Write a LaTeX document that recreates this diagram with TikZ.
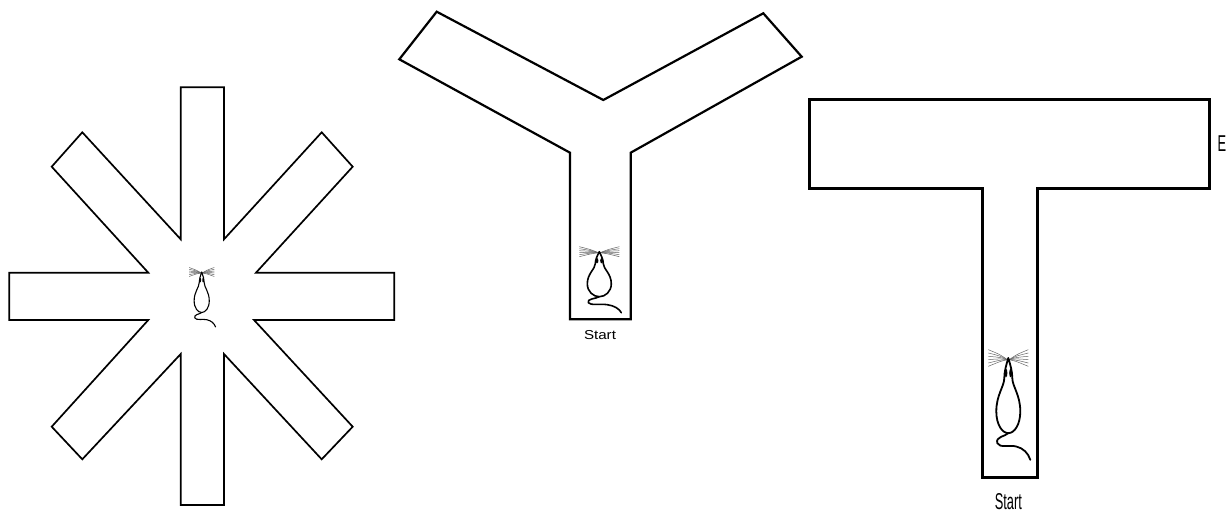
\documentclass[tikz,border=0pt]{standalone}
\usepackage{fontspec}
\setmainfont{Liberation Sans}
\begin{document}
\begin{tikzpicture}[x=1bp,y=-1bp,
  wall/.style={draw=black,line join=miter},
  ratline/.style={draw=black,line width=1.6bp,line cap=round,line join=round},
  whisker/.style={draw=black!60,line width=0.5bp},
  label/.style={inner sep=0pt,anchor=base},
  rat/.pic={
    % whiskers fanning out from the nose
    \foreach \a in {-5,-3,-1,1,3,5}{
      \draw[whisker] (-1,1) .. controls (-8,\a*0.4) .. (-20,\a);
      \draw[whisker] (1,1) .. controls (8,\a*0.4) .. (20,\a);
    }
    % pear-shaped body
    \draw[ratline] (0,0) .. controls (-2,4) and (-4,8) .. (-4,12)
      .. controls (-4,17) and (-12,22) .. (-12,32)
      .. controls (-12,40) and (-6,45) .. (0,45)
      .. controls (6,45) and (12,40) .. (12,32)
      .. controls (12,22) and (4,17) .. (4,12)
      .. controls (4,8) and (2,4) .. (0,0) -- cycle;
    % eyes / ears
    \fill (-2.3,9) ellipse (1.4 and 2.6);
    \fill (2.3,9) ellipse (1.4 and 2.6);
    % wavy tail
    \draw[ratline] (0,45) .. controls (-3,47) and (-13,47) .. (-11,51)
      .. controls (-9,54) and (2,52) .. (8,53)
      .. controls (15,54) and (20,57) .. (22,61);
  }]
\useasboundingbox (0,0) rectangle (1227,512);
\fill[white] (0,0) rectangle (1227,512);

% ---- radial arm maze ----
\draw[wall,line width=1.7bp]
  (180.7,239.3) -- (180.7,87.3) -- (224,87.3) -- (224,239.3)
  -- (321.7,132.3) -- (352.7,166.7) -- (256,272.7)
  -- (394.3,272.7) -- (394.3,320) -- (254,320)
  -- (352.7,426.7) -- (321.7,459.3) -- (224,354)
  -- (224,505) -- (180.7,505) -- (180.7,354)
  -- (82.3,459.3) -- (51.7,426.7) -- (148.3,320)
  -- (9.3,320) -- (9.3,272.7) -- (148.3,272.7)
  -- (51.7,166.7) -- (82.3,132.3) -- cycle;
\pic[xscale=0.63,yscale=0.9,ratline/.append style={line width=1.1bp}] (ratA) at (201.7,272) {rat};

% ---- Y maze ----
\draw[wall,line width=2.2bp]
  (570,319.3) -- (570,152.7) -- (399.3,59.3) -- (436.7,11.7)
  -- (603.3,100) -- (763.3,13.3) -- (801.7,56.7)
  -- (630.7,152.7) -- (630.7,319.3) -- cycle;
\pic (ratB) at (599.3,251.7) {rat};
\node[label] (startY) at (600,340)
  {\fontsize{13}{13}\selectfont\scalebox{1.17}[1]{Start}};

% ---- T maze ----
\draw[wall,line width=3bp]
  (982.7,477.3) -- (982.7,188.7) -- (809.3,188.7) -- (809.3,99.3)
  -- (1209,99.3) -- (1209,188.7) -- (1037.3,188.7)
  -- (1037.3,477.3) -- cycle;
\pic[yscale=1.67,ratline/.append style={line width=1.8bp}] (ratC) at (1008.3,358) {rat};
\node[label] (startT) at (1008.3,509.5)
  {\fontsize{23}{23}\selectfont\scalebox{0.56}[1]{Start}};
\node[label,anchor=base west] (endT) at (1217.5,151.7)
  {\fontsize{23}{23}\selectfont\scalebox{0.56}[1]{E}};
\end{tikzpicture}
\end{document}
